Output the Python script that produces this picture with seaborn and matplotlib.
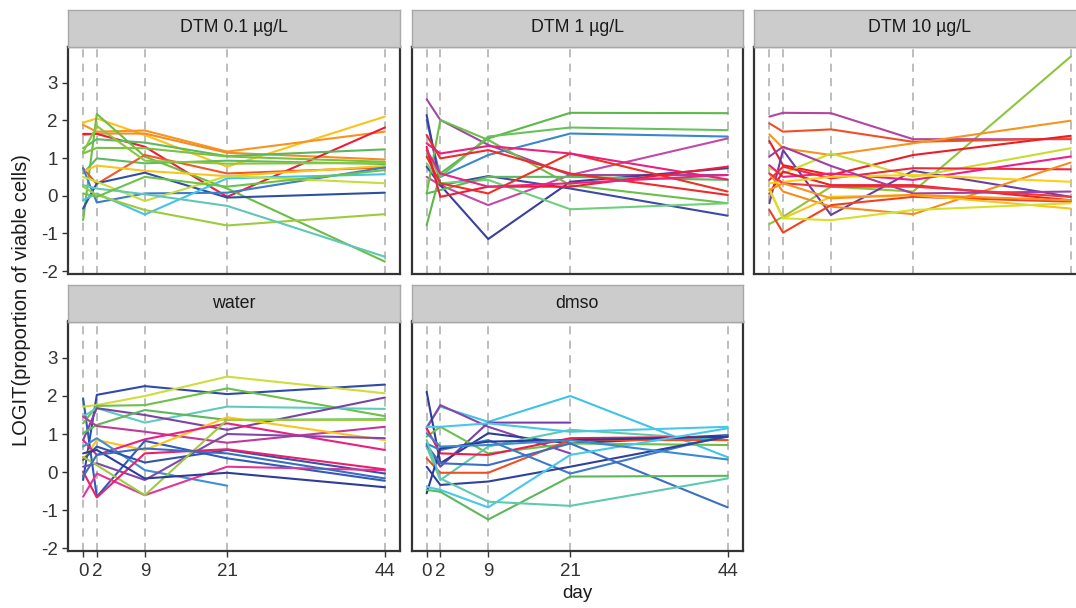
import numpy as np
import pandas as pd
import matplotlib
matplotlib.use("Agg")
import matplotlib.pyplot as plt
import seaborn as sns

nan = np.nan
days = [0, 2, 9, 21, 44]
day_labels = ["0", "2", "9", "21", "44"]
panels = ["DTM 0.1 µg/L", "DTM 1 µg/L", "DTM 10 µg/L", "water", "dmso"]

dtm01_values = [
    [1.94, 2.05, 1.61, 0.77, 2.10],
    [1.88, 1.70, 1.73, 1.17, 1.70],
    [1.61, 1.65, 1.65, 1.14, 0.96],
    [1.64, 1.64, 1.30, -0.03, 1.81],
    [-0.65, 2.17, 1.04, 0.19, -1.75],
    [1.26, 1.50, 1.41, 1.05, 1.23],
    [1.12, 1.27, 1.26, 1.04, 0.90],
    [0.59, 0.99, 0.86, 0.93, 0.84],
    [0.73, 0.31, 1.08, 0.59, 0.75],
    [0.64, 0.80, 0.66, 0.52, 0.79],
    [-0.34, 0.33, 0.61, -0.05, 0.08],
    [0.73, -0.18, 0.06, 0.08, 0.75],
    [-0.12, 0.06, -0.50, 0.46, 0.57],
    [0.50, 0.37, -0.14, 0.52, 0.33],
    [0.24, 0.02, -0.38, -0.79, -0.49],
    [0.28, 0.19, 0.04, -0.27, -1.62],
    [0.06, -0.03, 0.50, 0.24, 0.68],
    [1.15, 1.85, 0.93, 0.85, 0.87],
]
dtm01_colors = ["#fdc218", "#f7941d", "#f68b1f", "#ee1c3b", "#6cbd45", "#5cb85c",
                "#7ac143", "#5dbb63", "#f0582a", "#fcc419", "#2e4fa3", "#3d7cc9",
                "#45c2e8", "#c9dc3a", "#9ccb3b", "#5fc8b4", "#6cc24a", "#8cc63f"]

dtm1_values = [
    [2.56, 2.01, 1.35, 0.55, 0.55],
    [0.50, 0.28, -0.25, 0.55, 1.52],
    [2.01, 0.50, 1.08, 1.65, 1.57],
    [2.14, 0.28, -1.15, 0.37, 0.73],
    [0.77, 0.28, 0.52, 0.19, -0.53],
    [-0.78, 0.59, 1.52, 2.20, 2.19],
    [0.06, 2.01, 1.48, 0.28, -0.20],
    [1.12, 0.50, 1.57, 1.81, 1.74],
    [0.86, 0.33, 0.42, -0.36, -0.20],
    [0.06, 0.15, 0.50, 0.50, 0.42],
    [1.61, 0.99, 1.21, 0.59, 0.02],
    [1.04, 0.33, 0.06, 1.12, 0.11],
    [1.39, 1.12, 1.32, 1.12, 0.43],
    [1.30, -0.03, 0.24, 0.24, 0.77],
    [1.21, 0.59, 0.24, 0.33, 0.55],
]
dtm1_colors = ["#9b4a9e", "#c04aa8", "#3b86d0", "#3a3fa0", "#3b4ba3", "#5cb847",
               "#6cc04a", "#66c25a", "#6fcf7a", "#5cb85c", "#ee2a2a", "#ef3124",
               "#ec1f80", "#ee1c3b", "#e9237f"]

dtm10_values = [
    [-0.75, -0.56, 0.24, 0.11, 3.69],
    [2.10, 2.20, 2.19, 1.50, 1.50],
    [1.92, 1.70, 1.76, 1.43, 1.52],
    [1.63, 1.26, 1.08, 1.39, 1.99],
    [1.45, 0.81, 0.55, 1.08, 1.59],
    [-0.20, 1.21, -0.51, 0.66, -0.03],
    [0.73, 0.59, 1.12, 0.50, 1.26],
    [0.81, 0.50, 0.59, 0.42, 1.04],
    [0.42, 0.77, 0.46, 0.73, 0.70],
    [0.06, 0.64, 0.28, 0.28, -0.12],
    [0.59, 0.11, -0.29, -0.49, 0.88],
    [-0.38, -0.98, -0.25, -0.03, -0.16],
    [0.15, -0.60, -0.03, 0.02, -0.34],
    [0.33, 0.37, 0.50, 0.55, 0.37],
    [0.19, -0.60, -0.65, -0.38, -0.20],
    [1.04, 1.30, 0.79, 0.06, 0.11],
    [0.59, 0.33, 0.24, 0.24, -0.03],
    [0.15, 0.33, -0.07, 0.02, -0.12],
]
dtm10_colors = ["#8cc63f", "#b3449f", "#f04e23", "#f7941d", "#ee1c25", "#6a3fa0",
                "#c9dc2e", "#ec1f8c", "#ee2a3a", "#e8202a", "#f68b1f", "#f2401e",
                "#fcc419", "#fbd016", "#d6e02a", "#a23fa0", "#ef3340", "#f7931e"]

water_values = [
    [1.94, -0.65, 0.82, 0.36, -0.23],
    [-0.21, 2.03, 2.26, 2.05, 2.30],
    [1.72, 1.76, 2.00, 2.51, 2.07],
    [1.28, 1.74, 1.76, 2.20, 1.47],
    [1.46, 1.68, 1.30, 1.72, 1.66],
    [0.84, 1.68, 1.50, 1.11, 1.96],
    [1.02, 1.24, 1.63, 1.37, 1.39],
    [1.46, 1.21, 1.06, 0.77, 1.19],
    [0.32, 0.84, 0.58, 1.44, 0.84],
    [0.84, 0.45, 0.86, 1.28, 0.58],
    [0.67, 0.89, 0.05, -0.36, nan],
    [0.14, 0.23, -0.21, 1.00, 0.89],
    [0.32, 0.67, 0.25, 0.58, -0.04],
    [-0.65, -0.04, -0.61, 0.14, 0.05],
    [0.40, 0.18, -0.61, 1.37, 1.37],
    [0.01, -0.67, 0.49, 0.60, 0.07],
    [0.49, 0.58, -0.17, -0.02, -0.40],
    [-0.12, 0.45, 0.62, 0.49, -0.17],
]
water_colors = ["#2e5cb8", "#2f4aa8", "#cfdd3a", "#6cc04a", "#5ecbc0", "#7a44a6",
                "#5cb85c", "#c0399a", "#fcc419", "#ec1f80", "#3f8fd6", "#8048a8",
                "#3452a8", "#e2359a", "#9ccb3b", "#ec1f6e", "#2e3d98", "#3b6cc0"]

dmso_values = [
    [1.19, 1.72, 1.32, 2.00, 0.39],
    [1.15, 1.76, 1.19, 0.49, nan],
    [0.67, 0.14, 1.30, 1.30, nan],
    [2.11, 0.23, 1.02, 0.75, 0.97],
    [0.93, 1.19, 0.49, 0.75, 0.71],
    [0.67, -0.21, 0.67, 1.11, 0.84],
    [1.15, 0.49, 0.45, 0.89, 0.93],
    [0.36, -0.02, -0.02, 0.84, 0.84],
    [0.75, 0.58, 0.84, -0.04, 0.97],
    [-0.56, 0.62, 0.80, 0.84, 0.93],
    [0.14, -0.34, -0.25, 0.14, 0.93],
    [0.71, 0.23, 0.18, 0.75, -0.93],
    [-0.39, -0.47, -0.93, 0.45, 1.15],
    [-0.47, -0.52, -1.25, -0.12, -0.10],
    [0.84, -0.17, -0.78, -0.89, -0.17],
    [1.02, 0.67, 0.71, 0.84, 0.33],
    [1.19, 1.19, 1.28, 1.06, 1.19],
]
dmso_colors = ["#3fc3ea", "#8a44a8", "#7a3fa8", "#2e3d98", "#6cc04a", "#5ecba8",
               "#ee1c4b", "#f04e23", "#3b7cc9", "#2a3a9a", "#30419c", "#3c6fc4",
               "#45c8ea", "#5cb85c", "#5ec9b0", "#3a8ad0", "#4ac6e6"]

all_values = [dtm01_values, dtm1_values, dtm10_values, water_values, dmso_values]
all_colors = [dtm01_colors, dtm1_colors, dtm10_colors, water_colors, dmso_colors]

rows = []
for p, vals in zip(panels, all_values):
    for i, line in enumerate(vals):
        for d, v in zip(days, line):
            rows.append({"panel": p, "line": f"{p}-{i}", "day": d, "value": v})
df = pd.DataFrame(rows).dropna()

sns.set_style("white")
plt.rcParams["font.family"] = ["Liberation Sans", "DejaVu Sans"]

W, H = 1076, 608
fig = plt.figure(figsize=(W / 100, H / 100), dpi=100)

def fax(x0, y0, x1, y1):
    return [x0 / W, 1 - y1 / H, (x1 - x0) / W, (y1 - y0) / H]

col_x = [(68, 400), (411.6, 742.7), (754.3, 1085.7)]
row_y = [(46.5, 273.7), (321.5, 550.7)]
strip_h = 37

text_col = "#333333"
frame_col = "#333333"

for k, p in enumerate(panels):
    r, c = divmod(k, 3)
    x0, x1 = col_x[c]
    y0, y1 = row_y[r]
    ax = fig.add_axes(fax(x0, y0, x1, y1))
    for d in days:
        ax.axvline(d, color="#b8b8b8", lw=1.3, ls=(0, (4.5, 3.5)), zorder=1)
    sub = df[df["panel"] == p]
    pal = {f"{p}-{i}": col for i, col in enumerate(all_colors[k])}
    sns.lineplot(data=sub, x="day", y="value", hue="line", palette=pal,
                 estimator=None, units="line", legend=False, lw=1.5, ax=ax,
                 sort=True, zorder=3)
    ax.set_xlim(-2.2, 46.2)
    ax.set_ylim(-2.07, 3.96)
    ax.set_xlabel("")
    ax.set_ylabel("")
    for s in ax.spines.values():
        s.set_color(frame_col)
        s.set_linewidth(1.6)
    ax.set_yticks([-2, -1, 0, 1, 2, 3])
    ax.set_xticks(days)
    ax.tick_params(axis="both", direction="out", length=4.5, width=1.0,
                   color=frame_col, labelcolor=text_col, labelsize=13.5)
    ax.tick_params(axis="x", pad=4)
    ax.tick_params(axis="y", pad=3)
    if c == 0:
        ax.set_yticklabels(["-2", "-1", "0", "1", "2", "3"])
        ax.tick_params(axis="y", left=True)
    else:
        ax.tick_params(axis="y", left=False, labelleft=False)
    if r == 1:
        ax.set_xticklabels(day_labels)
        ax.tick_params(axis="x", bottom=True)
    else:
        ax.tick_params(axis="x", bottom=False, labelbottom=False)
    # strip header
    sax = fig.add_axes(fax(x0, y0 - strip_h, x1, y0))
    sax.set_facecolor("#cccccc")
    sax.set_xticks([])
    sax.set_yticks([])
    for s in sax.spines.values():
        s.set_color("#a8a8a8")
        s.set_linewidth(1.0)
    sax.text(0.5, 0.5, p, ha="center", va="center", fontsize=12.8,
             color="#1a1a1a", transform=sax.transAxes)

fig.text(22 / W, 1 - 300 / H, "LOGIT(proportion of viable cells)", rotation=90,
         ha="center", va="center", fontsize=14.5, color="#1a1a1a")
fig.text(577 / W, 1 - 594 / H, "day", ha="center", va="center", fontsize=13.5,
         color="#1a1a1a")

fig.savefig("out.png", dpi=100)
